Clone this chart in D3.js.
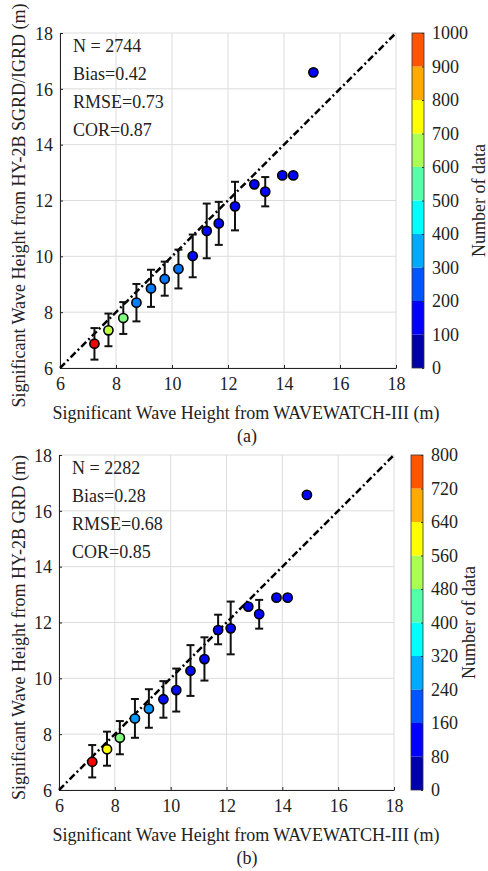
<!DOCTYPE html>
<html>
<head>
<meta charset="utf-8">
<script src="https://cdn.jsdelivr.net/npm/d3@7"></script>
<style>
  body { margin: 0; background: #fff; }
  svg text { font-family: "Liberation Serif", "Times New Roman", serif !important; fill: #222; }
</style>
</head>
<body>
<div id="chart"></div>
<script>
// panel (a) data
const modelA = [7.23, 7.73, 8.26, 8.73, 9.25, 9.74, 10.23, 10.74, 11.24, 11.67, 12.25, 12.94, 13.33, 13.94, 14.33, 15.05];
const meanA  = [6.87, 7.35, 7.79, 8.34, 8.85, 9.19, 9.55, 10.01, 10.91, 11.18, 11.79, 12.58, 12.32, 12.90, 12.90, 16.59];
const upperA = [7.43, 7.95, 8.36, 9.01, 9.52, 9.81, 10.24, 10.78, 11.89, 11.95, 12.67, null, 12.84, null, null, null];
const lowerA = [6.30, 6.78, 7.22, 7.67, 8.19, 8.59, 8.85, 9.25, 9.93, 10.41, 10.93, null, 11.79, null, null, null];
const countA = [880, 560, 500, 250, 245, 240, 235, 135, 132, 130, 128, 126, 126, 125, 125, 125];
const statsA = ["N = 2744", "Bias=0.42", "RMSE=0.73", "COR=0.87"];

// panel (b) data
const modelB = [7.19, 7.72, 8.18, 8.72, 9.22, 9.74, 10.20, 10.71, 11.21, 11.70, 12.15, 12.78, 13.17, 13.79, 14.19, 14.88];
const meanB  = [7.01, 7.46, 7.87, 8.56, 8.91, 9.25, 9.58, 10.27, 10.69, 11.73, 11.79, 12.57, 12.30, 12.89, 12.89, 16.57];
const upperB = [7.61, 8.09, 8.47, 9.26, 9.61, 9.90, 10.35, 11.19, 11.47, 12.28, 12.75, null, 12.81, null, null, null];
const lowerB = [6.45, 6.87, 7.28, 7.87, 8.23, 8.59, 8.81, 9.37, 9.92, 11.22, 10.86, null, 11.78, null, null, null];
const countB = [700, 500, 400, 220, 215, 110, 108, 106, 105, 104, 103, 102, 102, 101, 101, 101];
const statsB = ["N = 2282", "Bias=0.28", "RMSE=0.68", "COR=0.85"];

const axisTicks = [6, 8, 10, 12, 14, 16, 18];
const cbarTicksA = [0, 100, 200, 300, 400, 500, 600, 700, 800, 900, 1000];
const cbarTicksB = [0, 80, 160, 240, 320, 400, 480, 560, 640, 720, 800];
const jet10 = ["#0000aa", "#0000ff", "#0055ff", "#00aaff", "#00ffff", "#55ffaa", "#aaff55", "#ffff00", "#ffaa00", "#ff5500"];

const width = 488;
const height = 871;
const fontSize = 18;
const serif = '"Liberation Serif", "Times New Roman", serif';

const svg = d3.select('#chart')
  .append('svg')
  .attr('width', width)
  .attr('height', height);

// continuous jet for the markers
const jet = d3.scaleLinear()
  .domain([0, 0.125, 0.375, 0.625, 0.875, 1])
  .range(["#00007f", "#0000ff", "#00ffff", "#ffff00", "#ff0000", "#7f0000"]);

function drawPanel(p) {
  const xScale = d3.scaleLinear().domain([6, 18]).range([p.left, p.right]);
  const yScale = d3.scaleLinear().domain([6, 18]).range([p.bottom, p.top]);
  const g = svg.append('g');

  // grid
  g.selectAll('.gx').data(axisTicks).enter().append('line')
    .attr('x1', d => xScale(d)).attr('x2', d => xScale(d))
    .attr('y1', p.bottom).attr('y2', p.top)
    .attr('stroke', '#dcdcdc').attr('stroke-width', 1);
  g.selectAll('.gy').data(axisTicks).enter().append('line')
    .attr('x1', p.left).attr('x2', p.right)
    .attr('y1', d => yScale(d)).attr('y2', d => yScale(d))
    .attr('stroke', '#dcdcdc').attr('stroke-width', 1);

  // axes
  const xAxis = g.append('g')
    .attr('transform', `translate(0, ${p.bottom})`)
    .call(d3.axisBottom(xScale).tickValues(axisTicks).tickSizeInner(-3).tickSizeOuter(0).tickPadding(9));
  const yAxis = g.append('g')
    .attr('transform', `translate(${p.left}, 0)`)
    .call(d3.axisLeft(yScale).tickValues(axisTicks).tickSizeInner(-3).tickSizeOuter(0).tickPadding(7));
  [xAxis, yAxis].forEach(a => {
    a.attr('font-family', serif).attr('font-size', fontSize);
    a.select('.domain').attr('stroke', '#222');
    a.selectAll('.tick line').attr('stroke', '#222');
    a.selectAll('text').attr('fill', '#222');
  });
  yAxis.selectAll('text').attr('dy', '0.35em');

  // 1:1 line
  g.append('line')
    .attr('x1', xScale(6)).attr('y1', yScale(6))
    .attr('x2', xScale(18)).attr('y2', yScale(18))
    .attr('stroke', '#000').attr('stroke-width', 2.5)
    .attr('stroke-dasharray', '7,3,2,3');

  const pts = p.x.map((v, i) => ({x: v, y: p.y[i], hi: p.hi[i], lo: p.lo[i], n: p.n[i]}));

  // error bars
  const eb = g.selectAll('.eb').data(pts.filter(d => d.hi != null)).enter().append('g');
  eb.append('line')
    .attr('x1', d => xScale(d.x)).attr('x2', d => xScale(d.x))
    .attr('y1', d => yScale(d.hi)).attr('y2', d => yScale(d.lo))
    .attr('stroke', '#111').attr('stroke-width', 2);
  eb.append('line')
    .attr('x1', d => xScale(d.x) - 4).attr('x2', d => xScale(d.x) + 4)
    .attr('y1', d => yScale(d.hi)).attr('y2', d => yScale(d.hi))
    .attr('stroke', '#111').attr('stroke-width', 2);
  eb.append('line')
    .attr('x1', d => xScale(d.x) - 4).attr('x2', d => xScale(d.x) + 4)
    .attr('y1', d => yScale(d.lo)).attr('y2', d => yScale(d.lo))
    .attr('stroke', '#111').attr('stroke-width', 2);

  // points
  g.selectAll('.pt').data(pts).enter().append('circle')
    .attr('cx', d => xScale(d.x)).attr('cy', d => yScale(d.y))
    .attr('r', 4.6)
    .attr('fill', d => jet(d.n / p.cmax))
    .attr('stroke', '#000').attr('stroke-width', 1.6);

  // stats text
  g.selectAll('.st').data(p.stats).enter().append('text')
    .attr('x', p.left + 13)
    .attr('y', (d, i) => p.top + 19 + i * 28)
    .attr('font-size', fontSize)
    .text(d => d);

  // axis labels
  g.append('text')
    .attr('x', 246).attr('y', p.bottom + 51)
    .attr('text-anchor', 'middle').attr('font-size', fontSize)
    .text("Significant Wave Height from WAVEWATCH-III (m)");
  g.append('text')
    .attr('x', 247).attr('y', p.bottom + 74)
    .attr('text-anchor', 'middle').attr('font-size', fontSize)
    .text(p.tag);
  g.append('text')
    .attr('transform', `translate(25, ${(p.top + p.bottom) / 2 + 5}) rotate(-90)`)
    .attr('text-anchor', 'middle').attr('font-size', fontSize)
    .text(p.ylabel);

  // colorbar
  const cScale = d3.scaleLinear().domain([0, p.cmax]).range([p.bottom, p.top]);
  const bins = p.cticks.slice(0, -1).map((t, i) => ({lo: t, hi: p.cticks[i + 1], c: jet10[i]}));
  g.selectAll('.cb').data(bins).enter().append('rect')
    .attr('x', p.cbx).attr('width', 12)
    .attr('y', d => cScale(d.hi)).attr('height', d => cScale(d.lo) - cScale(d.hi))
    .attr('fill', d => d.c);
  g.append('rect')
    .attr('x', p.cbx).attr('width', 12)
    .attr('y', p.top).attr('height', p.bottom - p.top)
    .attr('fill', 'none').attr('stroke', '#333').attr('stroke-width', 0.8);
  const cAxis = g.append('g')
    .attr('transform', `translate(${p.cbx + 12}, 0)`)
    .call(d3.axisRight(cScale).tickValues(p.cticks).tickFormat(d3.format('d'))
      .tickSizeInner(-2).tickSizeOuter(0).tickPadding(8));
  cAxis.attr('font-family', serif).attr('font-size', fontSize);
  cAxis.select('.domain').remove();
  cAxis.selectAll('.tick line').attr('stroke', '#333');
  cAxis.selectAll('text').attr('fill', '#222');
  g.append('text')
    .attr('transform', `translate(${p.cblab}, ${(p.top + p.bottom) / 2}) rotate(-90)`)
    .attr('text-anchor', 'middle').attr('font-size', fontSize)
    .text("Number of data");
}

drawPanel({
  left: 60, right: 396, top: 33, bottom: 368,
  x: modelA, y: meanA, hi: upperA, lo: lowerA, n: countA, cmax: 1000,
  stats: statsA, tag: "(a)",
  ylabel: "Significant Wave Height from HY-2B SGRD/IGRD (m)",
  cbx: 412, cticks: cbarTicksA, cblab: 485
});

drawPanel({
  left: 59, right: 394, top: 455, bottom: 790,
  x: modelB, y: meanB, hi: upperB, lo: lowerB, n: countB, cmax: 800,
  stats: statsB, tag: "(b)",
  ylabel: "Significant Wave Height from HY-2B GRD (m)",
  cbx: 411, cticks: cbarTicksB, cblab: 475
});
</script>
</body>
</html>
